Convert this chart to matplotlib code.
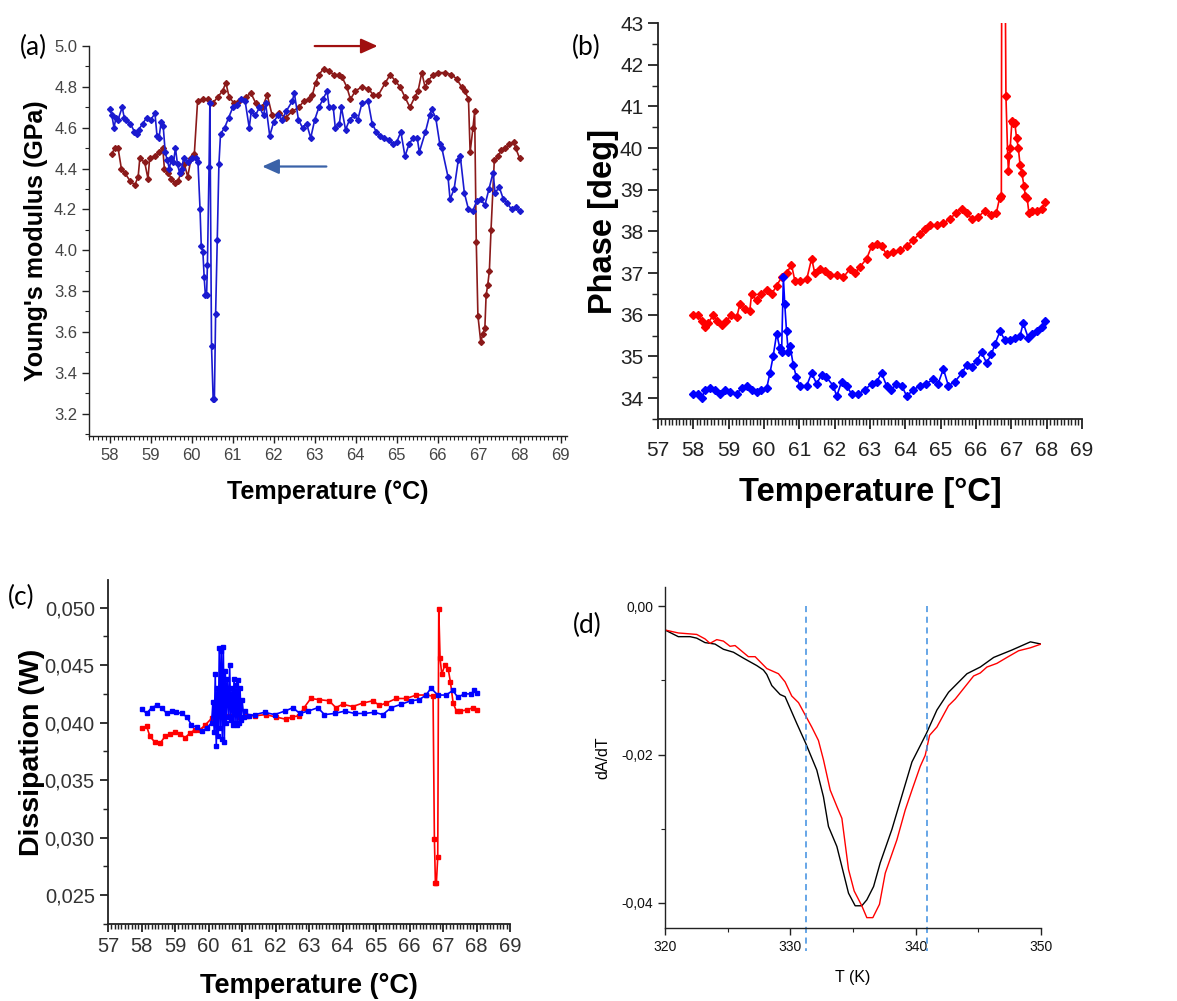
import matplotlib
matplotlib.use("Agg")
import matplotlib.pyplot as plt
from matplotlib.ticker import MultipleLocator, FuncFormatter

plt.rcParams['font.family'] = ['Liberation Sans', 'DejaVu Sans']

# ---------------- (a) Young's modulus ----------------
a_blue_T = [58.0, 58.05, 58.1, 58.15, 58.2, 58.3, 58.35, 58.4, 58.5, 58.6, 58.65, 58.7, 58.8, 58.9, 59.0,
            59.1, 59.15, 59.2, 59.25, 59.3, 59.35, 59.4, 59.45, 59.5, 59.55, 59.6, 59.65, 59.7, 59.75, 59.8,
            59.9, 60.0, 60.1, 60.15, 60.2, 60.23, 60.27, 60.3, 60.33, 60.36, 60.38, 60.42, 60.44, 60.48,
            60.52, 60.55, 60.58, 60.62, 60.66, 60.7, 60.8, 60.9, 61.0, 61.1, 61.2, 61.3, 61.4, 61.45, 61.55,
            61.65, 61.75, 61.8, 61.9, 62.0, 62.1, 62.2, 62.3, 62.45, 62.5, 62.6, 62.7, 62.8, 62.9, 63.0,
            63.1, 63.2, 63.3, 63.35, 63.45, 63.5, 63.6, 63.65, 63.75, 63.85, 63.95, 64.05, 64.15, 64.3,
            64.4, 64.5, 64.6, 64.7, 64.8, 64.9, 65.0, 65.1, 65.2, 65.3, 65.4, 65.5, 65.55, 65.7, 65.8,
            65.85, 65.95, 66.05, 66.1, 66.25, 66.3, 66.4, 66.5, 66.55, 66.65, 66.75, 66.85, 66.95, 67.05,
            67.15, 67.25, 67.35, 67.4, 67.5, 67.6, 67.7, 67.8, 67.9, 68.0]
a_blue_E = [4.69, 4.66, 4.60, 4.65, 4.64, 4.70, 4.65, 4.64, 4.62, 4.58, 4.57, 4.59, 4.62, 4.65, 4.64,
            4.67, 4.56, 4.55, 4.63, 4.61, 4.48, 4.44, 4.40, 4.45, 4.43, 4.50, 4.42, 4.38, 4.40, 4.45,
            4.43, 4.45, 4.45, 4.43, 4.20, 4.02, 3.99, 3.87, 3.78, 3.78, 3.93, 4.41, 4.72, 3.53,
            3.27, 3.27, 3.69, 4.05, 4.42, 4.57, 4.60, 4.65, 4.70, 4.71, 4.74, 4.73, 4.60, 4.68, 4.66,
            4.70, 4.66, 4.72, 4.56, 4.63, 4.66, 4.64, 4.68, 4.73, 4.77, 4.64, 4.60, 4.62, 4.55, 4.64,
            4.70, 4.74, 4.78, 4.70, 4.70, 4.60, 4.62, 4.70, 4.59, 4.64, 4.66, 4.64, 4.72, 4.73,
            4.62, 4.58, 4.56, 4.55, 4.54, 4.52, 4.53, 4.58, 4.46, 4.52, 4.55, 4.55, 4.48, 4.58, 4.66,
            4.69, 4.65, 4.52, 4.50, 4.36, 4.25, 4.30, 4.44, 4.46, 4.28, 4.20, 4.19, 4.24, 4.25,
            4.22, 4.30, 4.38, 4.28, 4.31, 4.25, 4.23, 4.20, 4.21, 4.19]

a_red_T = [58.04, 58.12, 58.2, 58.28, 58.36, 58.49, 58.61, 58.69, 58.73, 58.85, 58.93, 58.97, 59.09, 59.21,
           59.29, 59.33, 59.42, 59.5, 59.58, 59.66, 59.74, 59.82, 59.9, 59.98, 60.06, 60.14, 60.27, 60.39,
           60.51, 60.63, 60.75, 60.83, 60.91, 61.03, 61.16, 61.32, 61.44, 61.56, 61.72, 61.84, 61.96, 62.13,
           62.29, 62.45, 62.61, 62.73, 62.85, 62.94, 63.02, 63.1, 63.22, 63.34, 63.46, 63.58, 63.66, 63.78,
           63.87, 63.99, 64.15, 64.31, 64.43, 64.55, 64.72, 64.84, 64.96, 65.08, 65.2, 65.32, 65.44, 65.52,
           65.61, 65.69, 65.77, 65.89, 66.01, 66.17, 66.33, 66.46, 66.58, 66.66, 66.75, 66.79, 66.86, 66.9,
           66.94, 66.98, 67.05, 67.1, 67.15, 67.18, 67.22, 67.26, 67.3, 67.38, 67.47, 67.55, 67.65, 67.75,
           67.85, 67.9, 68.0]
a_red_E = [4.47, 4.50, 4.50, 4.40, 4.38, 4.34, 4.32, 4.36, 4.45, 4.43, 4.35, 4.45, 4.46, 4.48,
           4.50, 4.40, 4.38, 4.35, 4.33, 4.34, 4.38, 4.42, 4.36, 4.45, 4.47, 4.73, 4.74, 4.74,
           4.72, 4.75, 4.78, 4.82, 4.75, 4.72, 4.73, 4.75, 4.77, 4.72, 4.70, 4.76, 4.66, 4.67,
           4.65, 4.68, 4.70, 4.73, 4.74, 4.76, 4.82, 4.86, 4.89, 4.88, 4.86, 4.86, 4.85, 4.80,
           4.74, 4.78, 4.80, 4.79, 4.76, 4.76, 4.82, 4.86, 4.83, 4.80, 4.75, 4.70, 4.75, 4.78,
           4.87, 4.80, 4.83, 4.86, 4.87, 4.87, 4.86, 4.84, 4.80, 4.78, 4.74, 4.48, 4.60, 4.68,
           4.04, 3.68, 3.55, 3.59, 3.62, 3.78, 3.83, 3.90, 4.10, 4.44, 4.46, 4.49, 4.50, 4.52,
           4.53, 4.50, 4.45]

# ---------------- (b) Phase ----------------
b_red_T = [58.0, 58.14, 58.24, 58.33, 58.42, 58.57, 58.66, 58.8, 58.94, 59.08, 59.23, 59.32, 59.46, 59.6,
           59.65, 59.79, 59.93, 60.08, 60.22, 60.36, 60.5, 60.64, 60.78, 60.88, 61.02, 61.21, 61.35, 61.44,
           61.58, 61.73, 61.87, 62.06, 62.25, 62.43, 62.58, 62.72, 62.91, 63.05, 63.19, 63.33, 63.47, 63.66,
           63.85, 64.04, 64.23, 64.42, 64.56, 64.7, 64.89, 65.08, 65.26, 65.45, 65.6, 65.74, 65.88, 66.07,
           66.25, 66.44, 66.58, 66.67, 66.72, 66.73, 66.83, 66.85, 66.9, 66.92, 66.97, 67.02, 67.06, 67.1,
           67.15, 67.2, 67.25, 67.3, 67.36, 67.4, 67.45, 67.5, 67.58, 67.72, 67.87, 67.96]
b_red_P = [36.0, 36.0, 35.85, 35.7, 35.8, 36.0, 35.85, 35.75, 35.85, 36.0, 35.95, 36.25, 36.15, 36.1,
           36.5, 36.35, 36.5, 36.6, 36.5, 36.7, 36.9, 37.0, 37.2, 36.8, 36.8, 36.85, 37.35, 37.0,
           37.1, 37.05, 36.95, 36.95, 36.9, 37.1, 37.0, 37.15, 37.35, 37.65, 37.7, 37.65, 37.45, 37.5,
           37.55, 37.65, 37.8, 37.95, 38.05, 38.15, 38.15, 38.2, 38.3, 38.45, 38.55, 38.45, 38.3, 38.35,
           38.5, 38.4, 38.45, 38.8, 38.85, 44.0, 44.0, 41.25, 39.8, 39.45, 40.0, 40.65, 40.6, 40.6,
           40.25, 40.0, 39.6, 39.4, 39.1, 38.85, 38.8, 38.45, 38.5, 38.5, 38.55, 38.7]

b_blue_T = [58.0, 58.14, 58.24, 58.33, 58.47, 58.61, 58.75, 58.9, 59.04, 59.23, 59.37, 59.51, 59.65, 59.79,
            59.93, 60.08, 60.17, 60.26, 60.36, 60.45, 60.5, 60.55, 60.59, 60.64, 60.69, 60.74, 60.83, 60.92,
            61.02, 61.21, 61.35, 61.49, 61.63, 61.77, 61.96, 62.06, 62.2, 62.34, 62.48, 62.67, 62.86, 63.05,
            63.19, 63.33, 63.47, 63.61, 63.75, 63.9, 64.04, 64.23, 64.42, 64.6, 64.79, 64.93, 65.08, 65.22,
            65.41, 65.6, 65.74, 65.88, 66.02, 66.16, 66.3, 66.44, 66.54, 66.68, 66.82, 66.97, 67.11, 67.25,
            67.34, 67.48, 67.58, 67.72, 67.87, 67.96]
b_blue_P = [34.1, 34.1, 34.0, 34.2, 34.25, 34.2, 34.1, 34.2, 34.15, 34.1, 34.25, 34.3, 34.2, 34.15,
            34.2, 34.25, 34.6, 35.0, 35.55, 35.2, 35.1, 36.9, 36.25, 35.6, 35.1, 35.25, 34.8, 34.5,
            34.3, 34.3, 34.6, 34.35, 34.55, 34.5, 34.3, 34.05, 34.4, 34.3, 34.1, 34.1, 34.2, 34.35,
            34.4, 34.6, 34.3, 34.2, 34.35, 34.3, 34.05, 34.2, 34.3, 34.35, 34.45, 34.35, 34.7, 34.3,
            34.4, 34.6, 34.8, 34.75, 34.9, 35.1, 34.85, 35.05, 35.3, 35.6, 35.4, 35.4, 35.45, 35.5,
            35.8, 35.45, 35.55, 35.6, 35.7, 35.85]

# ---------------- (c) Dissipation ----------------
c_red_T = [58.0, 58.15, 58.25, 58.4, 58.55, 58.7, 58.85, 59.0, 59.15, 59.3, 59.45, 59.6, 59.75, 59.9,
           60.1, 60.3, 60.6, 60.9, 61.15, 61.4, 61.7, 62.0, 62.3, 62.5, 62.7, 62.85, 63.05, 63.3, 63.6,
           63.8, 64.0, 64.3, 64.6, 64.9, 65.1, 65.3, 65.6, 65.9, 66.2, 66.5, 66.7, 66.74, 66.77, 66.8,
           66.84, 66.87, 66.91, 66.96, 67.05, 67.15, 67.22, 67.3, 67.4, 67.5, 67.7, 67.9, 68.0]
c_red_D = [0.0395, 0.0397, 0.0388, 0.0383, 0.0382, 0.0388, 0.0390, 0.0392, 0.0390, 0.0387, 0.0391,
           0.0394, 0.0394, 0.0398, 0.0404, 0.0406, 0.0406, 0.0405, 0.0406, 0.0406, 0.0407, 0.0405,
           0.0403, 0.0405, 0.0406, 0.0413, 0.0421, 0.0420, 0.0419, 0.0413, 0.0416, 0.0414, 0.0417,
           0.0419, 0.0415, 0.0417, 0.0421, 0.0421, 0.0424, 0.0424, 0.0423, 0.0299, 0.0261, 0.0261,
           0.0283, 0.0499, 0.0456, 0.0442, 0.0450, 0.0447, 0.0435, 0.0417, 0.0410, 0.0410, 0.0411,
           0.0413, 0.0411]

c_blue_T = [58.0, 58.15, 58.3, 58.45, 58.6, 58.75, 58.9, 59.04, 59.2, 59.35, 59.49, 59.64, 59.79, 59.94,
            60.09, 60.13, 60.17, 60.2, 60.23, 60.26, 60.29, 60.32, 60.35, 60.38, 60.41, 60.44, 60.47,
            60.5, 60.53, 60.56, 60.6, 60.63, 60.66, 60.7, 60.73, 60.76, 60.79, 60.82, 60.85, 60.88,
            60.91, 60.94, 60.97, 61.0, 61.05, 61.1, 61.2, 61.38, 61.67, 61.97, 62.27, 62.52, 62.72,
            62.97, 63.26, 63.46, 63.76, 64.06, 64.36, 64.65, 64.95, 65.2, 65.45, 65.75, 66.04, 66.29,
            66.49, 66.64, 66.84, 67.09, 67.29, 67.44, 67.63, 67.83, 67.93, 68.0]
c_blue_D = [0.0412, 0.0408, 0.0413, 0.0415, 0.0413, 0.0408, 0.0410, 0.0409, 0.0408, 0.0405, 0.0398,
            0.0396, 0.0393, 0.0395, 0.0400, 0.0418, 0.0392, 0.0442, 0.0380, 0.0430, 0.0388, 0.0465,
            0.0395, 0.0462, 0.0386, 0.0466, 0.0383, 0.0445, 0.0400, 0.0438, 0.0405, 0.0450, 0.0402,
            0.0430, 0.0398, 0.0438, 0.0400, 0.0433, 0.0398, 0.0437, 0.0400, 0.0430, 0.0402, 0.0420,
            0.0405, 0.0410, 0.0406, 0.0407, 0.0409, 0.0407, 0.0410, 0.0413, 0.0408, 0.0410, 0.0413,
            0.0407, 0.0408, 0.0410, 0.0408, 0.0408, 0.0409, 0.0407, 0.0413, 0.0416, 0.0419, 0.0420,
            0.0424, 0.0430, 0.0424, 0.0424, 0.0428, 0.0422, 0.0425, 0.0425, 0.0428, 0.0426]

# ---------------- (d) dA/dT ----------------
d_black_T = [320.0, 321.06, 322.0, 322.53, 323.19, 323.99, 324.66, 325.46, 326.26, 327.32, 327.85, 328.12,
             328.52, 329.18, 329.58, 330.51, 331.23, 332.11, 332.64, 333.04, 333.71, 334.64, 335.17,
             335.7, 336.1, 336.64, 337.17, 338.1, 339.03, 339.7, 340.84, 341.69, 342.62, 344.09, 345.15,
             346.22, 347.68, 349.15, 350.0]
d_black_A = [-0.0032, -0.0041, -0.0041, -0.0043, -0.0049, -0.0051, -0.0058, -0.0062, -0.0070, -0.0080,
             -0.0086, -0.0092, -0.0107, -0.0119, -0.0122, -0.0158, -0.0185, -0.0221, -0.0257, -0.0297,
             -0.0324, -0.0387, -0.0404, -0.0404, -0.0396, -0.0378, -0.0346, -0.0301, -0.0248, -0.0210,
             -0.0172, -0.0140, -0.0116, -0.0091, -0.0082, -0.0069, -0.0059, -0.0048, -0.0051]
d_red_T = [320.0, 321.06, 322.53, 323.19, 323.59, 324.13, 324.66, 325.19, 325.59, 326.65, 327.19, 328.12,
           329.05, 329.58, 330.11, 330.65, 331.26, 331.71, 332.24, 332.64, 333.18, 333.71, 334.11, 334.64,
           335.09, 335.7, 336.1, 336.58, 337.11, 337.57, 338.5, 339.16, 339.7, 340.36, 340.76, 341.11,
           341.69, 342.62, 343.16, 344.62, 345.15, 345.68, 346.48, 347.28, 348.21, 349.15, 350.0]
d_red_A = [-0.0032, -0.0036, -0.0038, -0.0044, -0.0050, -0.0045, -0.0047, -0.0054, -0.0053, -0.0068,
           -0.0068, -0.0084, -0.0091, -0.0102, -0.0121, -0.0130, -0.0149, -0.0163, -0.0181, -0.0207,
           -0.0248, -0.0270, -0.0286, -0.0355, -0.0384, -0.0404, -0.0420, -0.0420, -0.0402, -0.0360,
           -0.0315, -0.0275, -0.0248, -0.0216, -0.0201, -0.0174, -0.0163, -0.0134, -0.0125, -0.0094,
           -0.0090, -0.0082, -0.0077, -0.0069, -0.0060, -0.0056, -0.0051]
d_dashed_T = [331.25, 340.9]


def comma(fmt):
    return FuncFormatter(lambda v, p: (fmt % v).replace('.', ','))


def style(ax, lw=1.1, major=5, minor=3, labsize=12, labcolor='#333333'):
    for s in ['top', 'right']:
        ax.spines[s].set_visible(False)
    for s in ['left', 'bottom']:
        ax.spines[s].set_linewidth(lw)
        ax.spines[s].set_color('#222222')
    ax.tick_params(which='major', direction='out', length=major, width=lw, labelsize=labsize,
                   labelcolor=labcolor, color='#222222')
    ax.tick_params(which='minor', direction='out', length=minor, width=lw * 0.8, color='#222222')


fig = plt.figure(figsize=(11.77, 10.01), dpi=100)

# (a)
ax = fig.add_axes([0.0756, 0.5644, 0.406, 0.3896])
ax.plot(a_red_T, a_red_E, color='#8b1a1a', lw=1.2, marker='D', ms=3)
ax.plot(a_blue_T, a_blue_E, color='#1a1ad0', lw=1.2, marker='D', ms=3)
ax.set_xlim(57.49, 69.15)
ax.set_ylim(3.09, 5.0)
ax.xaxis.set_major_locator(MultipleLocator(1))
ax.xaxis.set_minor_locator(MultipleLocator(0.1))
ax.yaxis.set_major_locator(MultipleLocator(0.2))
ax.yaxis.set_minor_locator(MultipleLocator(0.1))
ax.yaxis.set_major_formatter(FuncFormatter(lambda v, p: '%.1f' % v))
style(ax, lw=1.0, major=5, minor=3, labsize=12, labcolor='#444444')
ax.set_xlabel('Temperature (°C)', fontsize=18, fontweight='bold', labelpad=12)
ax.set_ylabel("Young's modulus (GPa)", fontsize=18, fontweight='bold', labelpad=4)
ax.annotate('', xy=(64.6, 5.0), xytext=(62.93, 5.0), annotation_clip=False,
            arrowprops=dict(arrowstyle='-|>,head_length=1.0,head_width=0.45', color='#a01010', lw=1.6))
ax.annotate('', xy=(61.65, 4.41), xytext=(63.35, 4.41),
            arrowprops=dict(arrowstyle='-|>,head_length=1.0,head_width=0.45', color='#3a62a8', lw=1.6))
fig.text(20 / 1177, 1 - 47 / 1001, '(a)', fontsize=19, family=['Lato', 'DejaVu Sans'], va='center')

# (b)
ax = fig.add_axes([0.559, 0.5814, 0.3602, 0.3956])
ax.plot(b_red_T, b_red_P, color='#ff0000', lw=1.2, marker='D', ms=4.5)
ax.plot(b_blue_T, b_blue_P, color='#0000ff', lw=1.2, marker='D', ms=4.5)
ax.set_xlim(57, 69)
ax.set_ylim(33.5, 43)
ax.xaxis.set_major_locator(MultipleLocator(1))
ax.xaxis.set_minor_locator(MultipleLocator(0.1))
ax.yaxis.set_major_locator(MultipleLocator(1))
ax.yaxis.set_minor_locator(MultipleLocator(0.5))
style(ax, lw=1.3, major=7, minor=4, labsize=15, labcolor='#222222')
ax.tick_params(axis='x', which='major', pad=9)
ax.set_xlabel('Temperature [°C]', fontsize=23.5, fontweight='bold', labelpad=12)
ax.set_ylabel('Phase [deg]', fontsize=23.5, fontweight='bold', labelpad=1)
fig.text(572 / 1177, 1 - 47 / 1001, '(b)', fontsize=19, family=['Lato', 'DejaVu Sans'], va='center')

# (c)
ax = fig.add_axes([0.0918, 0.0769, 0.3416, 0.3437])
ax.plot(c_red_T, c_red_D, color='#ff0000', lw=1.2, marker='s', ms=3)
ax.plot(c_blue_T, c_blue_D, color='#0000ff', lw=1.2, marker='s', ms=3)
ax.set_xlim(57, 69)
ax.set_ylim(0.0225, 0.0524)
ax.xaxis.set_major_locator(MultipleLocator(1))
ax.xaxis.set_minor_locator(MultipleLocator(0.1))
ax.yaxis.set_major_locator(MultipleLocator(0.005))
ax.yaxis.set_minor_locator(MultipleLocator(0.0025))
ax.yaxis.set_major_formatter(comma('%.3f'))
style(ax, lw=1.3, major=6, minor=3.5, labsize=14.5, labcolor='#333333')
ax.set_xlabel('Temperature (°C)', fontsize=19.5, fontweight='bold', labelpad=12)
ax.set_ylabel('Dissipation (W)', fontsize=20.5, fontweight='bold', labelpad=0)
fig.text(8 / 1177, 1 - 597 / 1001, '(c)', fontsize=19, family=['Lato', 'DejaVu Sans'], va='center')

# (d)
ax = fig.add_axes([0.565, 0.0729, 0.3195, 0.3407])
ax.plot(d_black_T, d_black_A, color='black', lw=1.0)
ax.plot(d_red_T, d_red_A, color='#ff0000', lw=1.0)
for t in d_dashed_T:
    ax.plot([t, t], [0.0, -0.0465], color='#3d8ee0', lw=1.1, ls=(0, (4, 3)), clip_on=False)
ax.set_xlim(320, 350)
ax.set_ylim(-0.0434, 0.0026)
ax.xaxis.set_major_locator(MultipleLocator(10))
ax.xaxis.set_minor_locator(MultipleLocator(5))
ax.yaxis.set_major_locator(MultipleLocator(0.02))
ax.yaxis.set_minor_locator(MultipleLocator(0.01))
ax.yaxis.set_major_formatter(FuncFormatter(lambda v, p: ('%.2f' % v).replace('.', ',').replace('-0,00', '0,00')))
style(ax, lw=1.0, major=5, minor=3, labsize=10, labcolor='#111111')
ax.set_xlabel('T (K)', fontsize=11.5, labelpad=12)
ax.set_ylabel('dA/dT', fontsize=11.5, labelpad=8)
fig.text(573 / 1177, 1 - 625 / 1001, '(d)', fontsize=19, family=['Lato', 'DejaVu Sans'], va='center')

fig.savefig('out.png', dpi=100)
